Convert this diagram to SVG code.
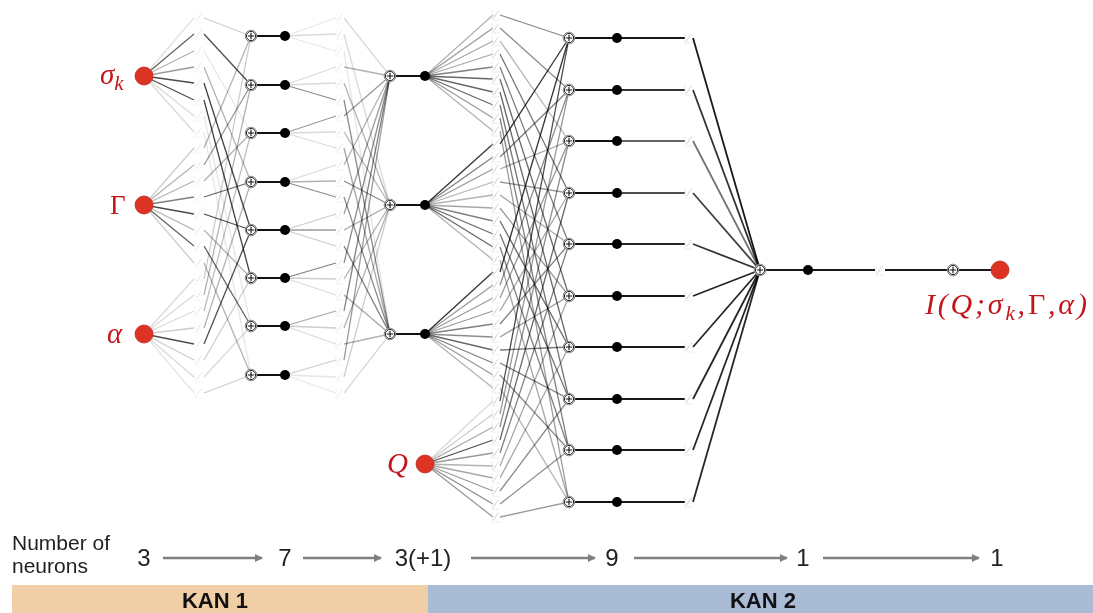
<svg xmlns="http://www.w3.org/2000/svg" width="1093" height="613" viewBox="0 0 1093 613">
<style>
.e{stroke:#000;stroke-width:1.3;fill:none}
.e4{stroke:#000;stroke-width:1.8;fill:none}
.sd{stroke:#111;stroke-width:1.8}
.dot{fill:#000}
.red{fill:#dc3324;stroke:#c42a1d;stroke-width:0.8}
.fa{opacity:0.45}
.fb{opacity:0.85}
.m{font-family:"Liberation Serif","DejaVu Serif",serif;font-style:italic;fill:#c3161c}
.mu{font-family:"Liberation Serif","DejaVu Serif",serif;fill:#c3161c}
.t{font-family:"Liberation Sans",Arial,sans-serif;fill:#222}
.b{font-family:"Liberation Sans",Arial,sans-serif;font-weight:bold;fill:#111;font-size:22px}
.ar{stroke:#7f7f7f;stroke-width:2.4}
</style>
<defs>
<g id="fn"><path d="M-4,-5V5H4" stroke="#e2e2e2" stroke-width="0.8" fill="none"/><path d="M-3,3C-1,3 0,-3 3,-4" stroke="#c4c4c4" stroke-width="1" fill="none"/></g>
<g id="sm"><circle r="5.8" fill="#fff" stroke="#8a8a8a" stroke-width="1"/><circle r="4.6" fill="#fff" stroke="#222" stroke-width="1"/><path d="M-3.2,0H3.2M0,-3.2V3.2" stroke="#111" stroke-width="1.1"/></g>
<marker id="ah" markerWidth="8" markerHeight="8" refX="7" refY="4" orient="auto" markerUnits="userSpaceOnUse"><path d="M0,0L8,4L0,8z" fill="#7f7f7f"/></marker>
</defs>
<rect width="1093" height="613" fill="#fff"/>

<g id="connectors">
<g class="e">
<line x1="144" y1="76" x2="194" y2="18" stroke-opacity=".12"/>
<line x1="144" y1="76" x2="194" y2="34" stroke-opacity=".6"/>
<line x1="144" y1="76" x2="194" y2="51" stroke-opacity=".3"/>
<line x1="144" y1="76" x2="194" y2="67" stroke-opacity=".4"/>
<line x1="144" y1="76" x2="194" y2="83" stroke-opacity=".7"/>
<line x1="144" y1="76" x2="194" y2="100" stroke-opacity=".7"/>
<line x1="144" y1="76" x2="194" y2="116" stroke-opacity=".15"/>
<line x1="144" y1="76" x2="194" y2="132" stroke-opacity=".15"/>
<line x1="144" y1="205" x2="194" y2="148" stroke-opacity=".2"/>
<line x1="144" y1="205" x2="194" y2="165" stroke-opacity=".3"/>
<line x1="144" y1="205" x2="194" y2="181" stroke-opacity=".3"/>
<line x1="144" y1="205" x2="194" y2="197" stroke-opacity=".5"/>
<line x1="144" y1="205" x2="194" y2="214" stroke-opacity=".7"/>
<line x1="144" y1="205" x2="194" y2="230" stroke-opacity=".3"/>
<line x1="144" y1="205" x2="194" y2="246" stroke-opacity=".6"/>
<line x1="144" y1="205" x2="194" y2="263" stroke-opacity=".2"/>
<line x1="144" y1="334" x2="194" y2="279" stroke-opacity=".15"/>
<line x1="144" y1="334" x2="194" y2="295" stroke-opacity=".15"/>
<line x1="144" y1="334" x2="194" y2="311" stroke-opacity=".15"/>
<line x1="144" y1="334" x2="194" y2="328" stroke-opacity=".2"/>
<line x1="144" y1="334" x2="194" y2="344" stroke-opacity=".7"/>
<line x1="144" y1="334" x2="194" y2="360" stroke-opacity=".2"/>
<line x1="144" y1="334" x2="194" y2="377" stroke-opacity=".15"/>
<line x1="144" y1="334" x2="194" y2="393" stroke-opacity=".1"/>
</g>
<g class="e">
<line x1="204" y1="18" x2="251" y2="36" stroke-opacity=".2"/>
<line x1="204" y1="34" x2="251" y2="85" stroke-opacity=".7"/>
<line x1="204" y1="51" x2="251" y2="133" stroke-opacity=".1"/>
<line x1="204" y1="67" x2="251" y2="182" stroke-opacity=".3"/>
<line x1="204" y1="83" x2="251" y2="230" stroke-opacity=".75"/>
<line x1="204" y1="100" x2="251" y2="278" stroke-opacity=".75"/>
<line x1="204" y1="116" x2="251" y2="326" stroke-opacity=".1"/>
<line x1="204" y1="132" x2="251" y2="375" stroke-opacity=".1"/>
<line x1="204" y1="148" x2="251" y2="36" stroke-opacity=".3"/>
<line x1="204" y1="165" x2="251" y2="85" stroke-opacity=".4"/>
<line x1="204" y1="181" x2="251" y2="133" stroke-opacity=".3"/>
<line x1="204" y1="197" x2="251" y2="182" stroke-opacity=".6"/>
<line x1="204" y1="214" x2="251" y2="230" stroke-opacity=".7"/>
<line x1="204" y1="230" x2="251" y2="278" stroke-opacity=".3"/>
<line x1="204" y1="246" x2="251" y2="326" stroke-opacity=".6"/>
<line x1="204" y1="263" x2="251" y2="375" stroke-opacity=".3"/>
<line x1="204" y1="279" x2="251" y2="36" stroke-opacity=".2"/>
<line x1="204" y1="295" x2="251" y2="85" stroke-opacity=".3"/>
<line x1="204" y1="311" x2="251" y2="133" stroke-opacity=".25"/>
<line x1="204" y1="328" x2="251" y2="182" stroke-opacity=".3"/>
<line x1="204" y1="344" x2="251" y2="230" stroke-opacity=".7"/>
<line x1="204" y1="360" x2="251" y2="278" stroke-opacity=".2"/>
<line x1="204" y1="377" x2="251" y2="326" stroke-opacity=".15"/>
<line x1="204" y1="393" x2="251" y2="375" stroke-opacity=".2"/>
</g>
<g class="sd">
<line x1="251" y1="36" x2="285" y2="36"/>
<line x1="251" y1="85" x2="285" y2="85"/>
<line x1="251" y1="133" x2="285" y2="133"/>
<line x1="251" y1="182" x2="285" y2="182"/>
<line x1="251" y1="230" x2="285" y2="230"/>
<line x1="251" y1="278" x2="285" y2="278"/>
<line x1="251" y1="326" x2="285" y2="326"/>
<line x1="251" y1="375" x2="285" y2="375"/>
</g>
<g class="e">
<line x1="285" y1="36" x2="336" y2="18" stroke-opacity=".1"/>
<line x1="285" y1="36" x2="336" y2="34" stroke-opacity=".15"/>
<line x1="285" y1="36" x2="336" y2="51" stroke-opacity=".1"/>
<line x1="285" y1="85" x2="336" y2="67" stroke-opacity=".15"/>
<line x1="285" y1="85" x2="336" y2="83" stroke-opacity=".15"/>
<line x1="285" y1="85" x2="336" y2="100" stroke-opacity=".45"/>
<line x1="285" y1="133" x2="336" y2="116" stroke-opacity=".4"/>
<line x1="285" y1="133" x2="336" y2="132" stroke-opacity=".15"/>
<line x1="285" y1="133" x2="336" y2="148" stroke-opacity=".15"/>
<line x1="285" y1="182" x2="336" y2="165" stroke-opacity=".15"/>
<line x1="285" y1="182" x2="336" y2="181" stroke-opacity=".3"/>
<line x1="285" y1="182" x2="336" y2="197" stroke-opacity=".45"/>
<line x1="285" y1="230" x2="336" y2="214" stroke-opacity=".2"/>
<line x1="285" y1="230" x2="336" y2="230" stroke-opacity=".4"/>
<line x1="285" y1="230" x2="336" y2="246" stroke-opacity=".2"/>
<line x1="285" y1="278" x2="336" y2="263" stroke-opacity=".5"/>
<line x1="285" y1="278" x2="336" y2="279" stroke-opacity=".2"/>
<line x1="285" y1="278" x2="336" y2="295" stroke-opacity=".15"/>
<line x1="285" y1="326" x2="336" y2="311" stroke-opacity=".35"/>
<line x1="285" y1="326" x2="336" y2="328" stroke-opacity=".2"/>
<line x1="285" y1="326" x2="336" y2="344" stroke-opacity=".15"/>
<line x1="285" y1="375" x2="336" y2="360" stroke-opacity=".2"/>
<line x1="285" y1="375" x2="336" y2="377" stroke-opacity=".1"/>
<line x1="285" y1="375" x2="336" y2="393" stroke-opacity=".1"/>
</g>
<g class="e">
<line x1="344" y1="18" x2="390" y2="76" stroke-opacity=".15"/>
<line x1="344" y1="67" x2="390" y2="76" stroke-opacity=".3"/>
<line x1="344" y1="116" x2="390" y2="76" stroke-opacity=".4"/>
<line x1="344" y1="165" x2="390" y2="76" stroke-opacity=".3"/>
<line x1="344" y1="214" x2="390" y2="76" stroke-opacity=".4"/>
<line x1="344" y1="263" x2="390" y2="76" stroke-opacity=".45"/>
<line x1="344" y1="311" x2="390" y2="76" stroke-opacity=".5"/>
<line x1="344" y1="360" x2="390" y2="76" stroke-opacity=".4"/>
<line x1="344" y1="34" x2="390" y2="205" stroke-opacity=".15"/>
<line x1="344" y1="83" x2="390" y2="205" stroke-opacity=".3"/>
<line x1="344" y1="132" x2="390" y2="205" stroke-opacity=".3"/>
<line x1="344" y1="181" x2="390" y2="205" stroke-opacity=".45"/>
<line x1="344" y1="230" x2="390" y2="205" stroke-opacity=".35"/>
<line x1="344" y1="279" x2="390" y2="205" stroke-opacity=".3"/>
<line x1="344" y1="328" x2="390" y2="205" stroke-opacity=".3"/>
<line x1="344" y1="377" x2="390" y2="205" stroke-opacity=".2"/>
<line x1="344" y1="51" x2="390" y2="334" stroke-opacity=".1"/>
<line x1="344" y1="100" x2="390" y2="334" stroke-opacity=".45"/>
<line x1="344" y1="148" x2="390" y2="334" stroke-opacity=".35"/>
<line x1="344" y1="197" x2="390" y2="334" stroke-opacity=".45"/>
<line x1="344" y1="246" x2="390" y2="334" stroke-opacity=".5"/>
<line x1="344" y1="295" x2="390" y2="334" stroke-opacity=".35"/>
<line x1="344" y1="344" x2="390" y2="334" stroke-opacity=".3"/>
<line x1="344" y1="393" x2="390" y2="334" stroke-opacity=".15"/>
</g>
<g class="sd">
<line x1="390" y1="76" x2="425" y2="76"/>
<line x1="390" y1="205" x2="425" y2="205"/>
<line x1="390" y1="334" x2="425" y2="334"/>
</g>
<g class="e">
<line x1="425" y1="76" x2="493" y2="15" stroke-opacity=".3"/>
<line x1="425" y1="76" x2="493" y2="28" stroke-opacity=".4"/>
<line x1="425" y1="76" x2="493" y2="41" stroke-opacity=".35"/>
<line x1="425" y1="76" x2="493" y2="54" stroke-opacity=".35"/>
<line x1="425" y1="76" x2="493" y2="67" stroke-opacity=".5"/>
<line x1="425" y1="76" x2="493" y2="79" stroke-opacity=".6"/>
<line x1="425" y1="76" x2="493" y2="92" stroke-opacity=".6"/>
<line x1="425" y1="76" x2="493" y2="105" stroke-opacity=".6"/>
<line x1="425" y1="76" x2="493" y2="118" stroke-opacity=".4"/>
<line x1="425" y1="76" x2="493" y2="131" stroke-opacity=".3"/>
<line x1="425" y1="205" x2="493" y2="144" stroke-opacity=".8"/>
<line x1="425" y1="205" x2="493" y2="157" stroke-opacity=".5"/>
<line x1="425" y1="205" x2="493" y2="169" stroke-opacity=".4"/>
<line x1="425" y1="205" x2="493" y2="182" stroke-opacity=".3"/>
<line x1="425" y1="205" x2="493" y2="195" stroke-opacity=".3"/>
<line x1="425" y1="205" x2="493" y2="208" stroke-opacity=".35"/>
<line x1="425" y1="205" x2="493" y2="221" stroke-opacity=".5"/>
<line x1="425" y1="205" x2="493" y2="234" stroke-opacity=".6"/>
<line x1="425" y1="205" x2="493" y2="247" stroke-opacity=".6"/>
<line x1="425" y1="205" x2="493" y2="260" stroke-opacity=".3"/>
<line x1="425" y1="334" x2="493" y2="272" stroke-opacity=".8"/>
<line x1="425" y1="334" x2="493" y2="285" stroke-opacity=".4"/>
<line x1="425" y1="334" x2="493" y2="298" stroke-opacity=".4"/>
<line x1="425" y1="334" x2="493" y2="311" stroke-opacity=".4"/>
<line x1="425" y1="334" x2="493" y2="324" stroke-opacity=".5"/>
<line x1="425" y1="334" x2="493" y2="337" stroke-opacity=".45"/>
<line x1="425" y1="334" x2="493" y2="350" stroke-opacity=".6"/>
<line x1="425" y1="334" x2="493" y2="363" stroke-opacity=".5"/>
<line x1="425" y1="334" x2="493" y2="375" stroke-opacity=".4"/>
<line x1="425" y1="334" x2="493" y2="388" stroke-opacity=".3"/>
<line x1="425" y1="464" x2="493" y2="401" stroke-opacity=".15"/>
<line x1="425" y1="464" x2="493" y2="414" stroke-opacity=".2"/>
<line x1="425" y1="464" x2="493" y2="427" stroke-opacity=".35"/>
<line x1="425" y1="464" x2="493" y2="440" stroke-opacity=".7"/>
<line x1="425" y1="464" x2="493" y2="453" stroke-opacity=".4"/>
<line x1="425" y1="464" x2="493" y2="466" stroke-opacity=".3"/>
<line x1="425" y1="464" x2="493" y2="478" stroke-opacity=".35"/>
<line x1="425" y1="464" x2="493" y2="491" stroke-opacity=".4"/>
<line x1="425" y1="464" x2="493" y2="504" stroke-opacity=".45"/>
<line x1="425" y1="464" x2="493" y2="517" stroke-opacity=".4"/>
</g>
<g class="e">
<line x1="500" y1="15" x2="569" y2="38" stroke-opacity=".45"/>
<line x1="500" y1="28" x2="569" y2="90" stroke-opacity=".45"/>
<line x1="500" y1="41" x2="569" y2="141" stroke-opacity=".3"/>
<line x1="500" y1="54" x2="569" y2="193" stroke-opacity=".55"/>
<line x1="500" y1="67" x2="569" y2="244" stroke-opacity=".5"/>
<line x1="500" y1="79" x2="569" y2="296" stroke-opacity=".6"/>
<line x1="500" y1="92" x2="569" y2="347" stroke-opacity=".6"/>
<line x1="500" y1="105" x2="569" y2="399" stroke-opacity=".55"/>
<line x1="500" y1="118" x2="569" y2="450" stroke-opacity=".5"/>
<line x1="500" y1="131" x2="569" y2="502" stroke-opacity=".4"/>
<line x1="500" y1="144" x2="569" y2="38" stroke-opacity=".8"/>
<line x1="500" y1="157" x2="569" y2="90" stroke-opacity=".5"/>
<line x1="500" y1="169" x2="569" y2="141" stroke-opacity=".35"/>
<line x1="500" y1="182" x2="569" y2="193" stroke-opacity=".4"/>
<line x1="500" y1="195" x2="569" y2="244" stroke-opacity=".35"/>
<line x1="500" y1="208" x2="569" y2="296" stroke-opacity=".4"/>
<line x1="500" y1="221" x2="569" y2="347" stroke-opacity=".6"/>
<line x1="500" y1="234" x2="569" y2="399" stroke-opacity=".55"/>
<line x1="500" y1="247" x2="569" y2="450" stroke-opacity=".5"/>
<line x1="500" y1="260" x2="569" y2="502" stroke-opacity=".35"/>
<line x1="500" y1="272" x2="569" y2="38" stroke-opacity=".8"/>
<line x1="500" y1="285" x2="569" y2="90" stroke-opacity=".45"/>
<line x1="500" y1="298" x2="569" y2="141" stroke-opacity=".4"/>
<line x1="500" y1="311" x2="569" y2="193" stroke-opacity=".35"/>
<line x1="500" y1="324" x2="569" y2="244" stroke-opacity=".5"/>
<line x1="500" y1="337" x2="569" y2="296" stroke-opacity=".4"/>
<line x1="500" y1="350" x2="569" y2="347" stroke-opacity=".55"/>
<line x1="500" y1="363" x2="569" y2="399" stroke-opacity=".5"/>
<line x1="500" y1="375" x2="569" y2="450" stroke-opacity=".45"/>
<line x1="500" y1="388" x2="569" y2="502" stroke-opacity=".3"/>
<line x1="500" y1="401" x2="569" y2="38" stroke-opacity=".7"/>
<line x1="500" y1="414" x2="569" y2="90" stroke-opacity=".4"/>
<line x1="500" y1="427" x2="569" y2="141" stroke-opacity=".45"/>
<line x1="500" y1="440" x2="569" y2="193" stroke-opacity=".6"/>
<line x1="500" y1="453" x2="569" y2="244" stroke-opacity=".5"/>
<line x1="500" y1="466" x2="569" y2="296" stroke-opacity=".35"/>
<line x1="500" y1="478" x2="569" y2="347" stroke-opacity=".35"/>
<line x1="500" y1="491" x2="569" y2="399" stroke-opacity=".45"/>
<line x1="500" y1="504" x2="569" y2="450" stroke-opacity=".45"/>
<line x1="500" y1="517" x2="569" y2="502" stroke-opacity=".4"/>
</g>
<g class="sd">
<line x1="569" y1="38" x2="617" y2="38"/>
<line x1="569" y1="90" x2="617" y2="90"/>
<line x1="569" y1="141" x2="617" y2="141"/>
<line x1="569" y1="193" x2="617" y2="193"/>
<line x1="569" y1="244" x2="617" y2="244"/>
<line x1="569" y1="296" x2="617" y2="296"/>
<line x1="569" y1="347" x2="617" y2="347"/>
<line x1="569" y1="399" x2="617" y2="399"/>
<line x1="569" y1="450" x2="617" y2="450"/>
<line x1="569" y1="502" x2="617" y2="502"/>
</g>
<g class="e4">
<line x1="617" y1="38" x2="685" y2="38" stroke-opacity=".9"/>
<line x1="617" y1="90" x2="685" y2="90" stroke-opacity=".8"/>
<line x1="617" y1="141" x2="685" y2="141" stroke-opacity=".6"/>
<line x1="617" y1="193" x2="685" y2="193" stroke-opacity=".7"/>
<line x1="617" y1="244" x2="685" y2="244" stroke-opacity=".85"/>
<line x1="617" y1="296" x2="685" y2="296" stroke-opacity=".9"/>
<line x1="617" y1="347" x2="685" y2="347" stroke-opacity=".9"/>
<line x1="617" y1="399" x2="685" y2="399" stroke-opacity=".9"/>
<line x1="617" y1="450" x2="685" y2="450" stroke-opacity=".9"/>
<line x1="617" y1="502" x2="685" y2="502" stroke-opacity=".9"/>
<line x1="693" y1="38" x2="760" y2="270" stroke-opacity=".9"/>
<line x1="693" y1="90" x2="760" y2="270" stroke-opacity=".8"/>
<line x1="693" y1="141" x2="760" y2="270" stroke-opacity=".55"/>
<line x1="693" y1="193" x2="760" y2="270" stroke-opacity=".75"/>
<line x1="693" y1="244" x2="760" y2="270" stroke-opacity=".8"/>
<line x1="693" y1="296" x2="760" y2="270" stroke-opacity=".85"/>
<line x1="693" y1="347" x2="760" y2="270" stroke-opacity=".85"/>
<line x1="693" y1="399" x2="760" y2="270" stroke-opacity=".85"/>
<line x1="693" y1="450" x2="760" y2="270" stroke-opacity=".85"/>
<line x1="693" y1="502" x2="760" y2="270" stroke-opacity=".85"/>
<line x1="760" y1="270" x2="875" y2="270" stroke-opacity=".9"/>
<line x1="885" y1="270" x2="1000" y2="270" stroke-opacity=".9"/>
</g>
<g class="ar" marker-end="url(#ah)">
<line x1="163" y1="558" x2="262" y2="558"/>
<line x1="303" y1="558" x2="381" y2="558"/>
<line x1="471" y1="558" x2="595" y2="558"/>
<line x1="634" y1="558" x2="787" y2="558"/>
<line x1="823" y1="558" x2="979" y2="558"/>
</g>
</g>

<g id="functions">
<g class="fa">
<use href="#fn" x="199" y="18"/><use href="#fn" x="199" y="34"/><use href="#fn" x="199" y="51"/><use href="#fn" x="199" y="67"/><use href="#fn" x="199" y="83"/><use href="#fn" x="199" y="100"/><use href="#fn" x="199" y="116"/><use href="#fn" x="199" y="132"/><use href="#fn" x="199" y="148"/><use href="#fn" x="199" y="165"/><use href="#fn" x="199" y="181"/><use href="#fn" x="199" y="197"/><use href="#fn" x="199" y="214"/><use href="#fn" x="199" y="230"/><use href="#fn" x="199" y="246"/><use href="#fn" x="199" y="263"/><use href="#fn" x="199" y="279"/><use href="#fn" x="199" y="295"/><use href="#fn" x="199" y="311"/><use href="#fn" x="199" y="328"/><use href="#fn" x="199" y="344"/><use href="#fn" x="199" y="360"/><use href="#fn" x="199" y="377"/><use href="#fn" x="199" y="393"/>
<use href="#fn" x="340" y="18"/><use href="#fn" x="340" y="34"/><use href="#fn" x="340" y="51"/><use href="#fn" x="340" y="67"/><use href="#fn" x="340" y="83"/><use href="#fn" x="340" y="100"/><use href="#fn" x="340" y="116"/><use href="#fn" x="340" y="132"/><use href="#fn" x="340" y="148"/><use href="#fn" x="340" y="165"/><use href="#fn" x="340" y="181"/><use href="#fn" x="340" y="197"/><use href="#fn" x="340" y="214"/><use href="#fn" x="340" y="230"/><use href="#fn" x="340" y="246"/><use href="#fn" x="340" y="263"/><use href="#fn" x="340" y="279"/><use href="#fn" x="340" y="295"/><use href="#fn" x="340" y="311"/><use href="#fn" x="340" y="328"/><use href="#fn" x="340" y="344"/><use href="#fn" x="340" y="360"/><use href="#fn" x="340" y="377"/><use href="#fn" x="340" y="393"/>
</g>
<g class="fb">
<use href="#fn" x="496" y="15"/><use href="#fn" x="496" y="28"/><use href="#fn" x="496" y="41"/><use href="#fn" x="496" y="54"/><use href="#fn" x="496" y="67"/><use href="#fn" x="496" y="79"/><use href="#fn" x="496" y="92"/><use href="#fn" x="496" y="105"/><use href="#fn" x="496" y="118"/><use href="#fn" x="496" y="131"/><use href="#fn" x="496" y="144"/><use href="#fn" x="496" y="157"/><use href="#fn" x="496" y="169"/><use href="#fn" x="496" y="182"/><use href="#fn" x="496" y="195"/><use href="#fn" x="496" y="208"/><use href="#fn" x="496" y="221"/><use href="#fn" x="496" y="234"/><use href="#fn" x="496" y="247"/><use href="#fn" x="496" y="260"/><use href="#fn" x="496" y="272"/><use href="#fn" x="496" y="285"/><use href="#fn" x="496" y="298"/><use href="#fn" x="496" y="311"/><use href="#fn" x="496" y="324"/><use href="#fn" x="496" y="337"/><use href="#fn" x="496" y="350"/><use href="#fn" x="496" y="363"/><use href="#fn" x="496" y="375"/><use href="#fn" x="496" y="388"/><use href="#fn" x="496" y="401"/><use href="#fn" x="496" y="414"/><use href="#fn" x="496" y="427"/><use href="#fn" x="496" y="440"/><use href="#fn" x="496" y="453"/><use href="#fn" x="496" y="466"/><use href="#fn" x="496" y="478"/><use href="#fn" x="496" y="491"/><use href="#fn" x="496" y="504"/><use href="#fn" x="496" y="517"/>
<use href="#fn" x="689" y="38"/><use href="#fn" x="689" y="90"/><use href="#fn" x="689" y="141"/><use href="#fn" x="689" y="193"/><use href="#fn" x="689" y="244"/><use href="#fn" x="689" y="296"/><use href="#fn" x="689" y="347"/><use href="#fn" x="689" y="399"/><use href="#fn" x="689" y="450"/><use href="#fn" x="689" y="502"/>
<use href="#fn" x="880" y="270"/>
</g>
</g>

<g id="layer1-sums">
<use href="#sm" x="251" y="36"/><use href="#sm" x="251" y="85"/><use href="#sm" x="251" y="133"/><use href="#sm" x="251" y="182"/><use href="#sm" x="251" y="230"/><use href="#sm" x="251" y="278"/><use href="#sm" x="251" y="326"/><use href="#sm" x="251" y="375"/>
</g>
<g id="layer1-dots" class="dot">
<circle cx="285" cy="36" r="5"/><circle cx="285" cy="85" r="5"/><circle cx="285" cy="133" r="5"/><circle cx="285" cy="182" r="5"/><circle cx="285" cy="230" r="5"/><circle cx="285" cy="278" r="5"/><circle cx="285" cy="326" r="5"/><circle cx="285" cy="375" r="5"/>
</g>
<g id="layer2-sums">
<use href="#sm" x="390" y="76"/><use href="#sm" x="390" y="205"/><use href="#sm" x="390" y="334"/>
</g>
<g id="layer2-dots" class="dot">
<circle cx="425" cy="76" r="5"/><circle cx="425" cy="205" r="5"/><circle cx="425" cy="334" r="5"/>
</g>
<g id="layer3-sums">
<use href="#sm" x="569" y="38"/><use href="#sm" x="569" y="90"/><use href="#sm" x="569" y="141"/><use href="#sm" x="569" y="193"/><use href="#sm" x="569" y="244"/><use href="#sm" x="569" y="296"/><use href="#sm" x="569" y="347"/><use href="#sm" x="569" y="399"/><use href="#sm" x="569" y="450"/><use href="#sm" x="569" y="502"/>
</g>
<g id="layer3-dots" class="dot">
<circle cx="617" cy="38" r="5"/><circle cx="617" cy="90" r="5"/><circle cx="617" cy="141" r="5"/><circle cx="617" cy="193" r="5"/><circle cx="617" cy="244" r="5"/><circle cx="617" cy="296" r="5"/><circle cx="617" cy="347" r="5"/><circle cx="617" cy="399" r="5"/><circle cx="617" cy="450" r="5"/><circle cx="617" cy="502" r="5"/>
</g>
<g id="layer4">
<use href="#sm" x="760" y="270"/>
<circle class="dot" cx="808" cy="270" r="5"/>
<use href="#sm" x="953" y="270"/>
</g>

<g id="input-sigma"><circle class="red" cx="144" cy="76" r="9"/><text class="m" x="100" y="84" font-size="29">σ<tspan font-size="21" dy="6">k</tspan></text></g>
<g id="input-gamma"><circle class="red" cx="144" cy="205" r="9"/><text class="mu" x="110" y="214" font-size="27">Γ</text></g>
<g id="input-alpha"><circle class="red" cx="144" cy="334" r="9"/><text class="m" x="107" y="343" font-size="29">α</text></g>
<g id="input-Q"><circle class="red" cx="425" cy="464" r="9"/><text class="m" x="387" y="473" font-size="29">Q</text></g>
<g id="output-I"><circle class="red" cx="1000" cy="270" r="9"/><text class="m" x="925" y="314" font-size="30" letter-spacing="2.8">I(Q;σ<tspan font-size="21" dy="6">k</tspan><tspan dy="-6">,</tspan><tspan font-style="normal">Γ</tspan>,α)</text></g>

<g id="neuron-counts">
<text class="t" x="12" y="550" font-size="21">Number of</text>
<text class="t" x="12" y="573" font-size="21">neurons</text>
<text class="t" x="144" y="566" font-size="24" text-anchor="middle">3</text>
<text class="t" x="285" y="566" font-size="24" text-anchor="middle">7</text>
<text class="t" x="423" y="566" font-size="24" text-anchor="middle">3(+1)</text>
<text class="t" x="612" y="566" font-size="24" text-anchor="middle">9</text>
<text class="t" x="803" y="566" font-size="24" text-anchor="middle">1</text>
<text class="t" x="997" y="566" font-size="24" text-anchor="middle">1</text>
</g>
<g id="kan1"><rect x="12" y="585" width="416" height="28" fill="#f0cfa6"/><text class="b" x="215" y="608" text-anchor="middle">KAN 1</text></g>
<g id="kan2"><rect x="428" y="585" width="665" height="28" fill="#aabbd5"/><text class="b" x="763" y="608" text-anchor="middle">KAN 2</text></g>
</svg>
